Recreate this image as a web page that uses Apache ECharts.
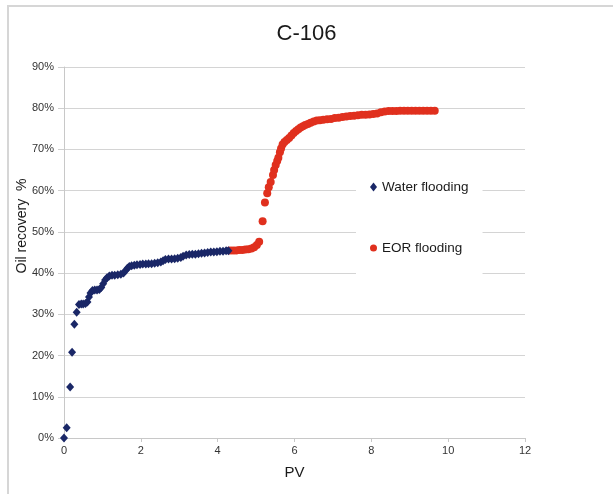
<!DOCTYPE html>
<html>
<head>
<meta charset="utf-8">
<script src="https://cdn.jsdelivr.net/npm/echarts@6/dist/echarts.min.js"></script>
<style>html,body{margin:0;padding:0;background:#fff}#c{width:613px;height:494px}</style>
</head>
<body>
<div id="c"></div>
<script>
var titleText = 'C-106';
var xTicks = [0, 2, 4, 6, 8, 10, 12];
var yTicks = [0, 10, 20, 30, 40, 50, 60, 70, 80, 90];
var waterFlooding = [
[0,0],[0.07,2.5],[0.16,12.4],[0.21,20.8],[0.27,27.6],[0.33,30.5],
[0.39,32.4],[0.45,32.5],[0.5,32.5],[0.56,32.6],[0.61,33.0],[0.65,34.2],[0.69,35.2],[0.74,35.8],[0.8,35.9],[0.86,35.9],[0.92,36.0],[0.97,36.5],[1.02,37.4],[1.07,38.3],[1.12,38.9],[1.18,39.3],[1.25,39.5],[1.32,39.5],[1.4,39.6],[1.48,39.7],[1.55,40.0],[1.6,40.6],[1.65,41.2],[1.7,41.6],[1.76,41.8],[1.83,41.9],[1.9,42.0],[1.98,42.1],[2.05,42.2],[2.13,42.2],[2.2,42.3],[2.28,42.3],[2.36,42.4],[2.44,42.5],[2.52,42.7],[2.58,43.0],[2.64,43.3],[2.72,43.4],[2.8,43.4],[2.88,43.5],[2.96,43.6],[3.04,43.8],[3.1,44.1],[3.18,44.4],[3.26,44.5],[3.34,44.6],[3.42,44.6],[3.5,44.7],[3.58,44.8],[3.66,44.9],[3.74,45.0],[3.82,45.1],[3.9,45.1],[3.98,45.2],[4.06,45.3],[4.14,45.3],[4.22,45.4],[4.28,45.4]
];
var eorFlooding = [
[4.32,45.5],[4.4,45.5],[4.48,45.5],[4.56,45.6],[4.64,45.6],[4.72,45.7],[4.8,45.8],[4.88,46.0],[4.95,46.3],[5.02,46.8],[5.08,47.6],[5.17,52.6],[5.23,57.1],[5.29,59.4],[5.33,60.8],[5.38,62.1],[5.44,63.8],[5.47,65.0],[5.51,66.2],[5.55,67.2],[5.58,68.0],[5.62,69.3],[5.65,70.2],[5.69,71.2],[5.74,71.8],[5.8,72.3],[5.86,72.8],[5.92,73.4],[5.98,74.0],[6.04,74.5],[6.1,74.9],[6.16,75.3],[6.22,75.6],[6.28,75.9],[6.35,76.2],[6.42,76.5],[6.5,76.8],[6.58,77.0],[6.66,77.1],[6.75,77.2],[6.85,77.3],[6.95,77.4],[7.05,77.6],[7.15,77.7],[7.25,77.9],[7.35,78.0],[7.45,78.1],[7.55,78.2],[7.65,78.3],[7.75,78.4],[7.85,78.4],[7.95,78.5],[8.05,78.6],[8.15,78.7],[8.25,79.0],[8.35,79.2],[8.45,79.3],[8.55,79.3],[8.65,79.3],[8.75,79.4],[8.85,79.4],[8.95,79.4],[9.05,79.4],[9.15,79.4],[9.25,79.4],[9.35,79.4],[9.45,79.4],[9.55,79.4],[9.65,79.4]
];
var seriesNames = ['Water flooding', 'EOR flooding'];
var xName = 'PV';
var yName = 'Oil recovery  %';

var chart = echarts.init(document.getElementById('c'), null, {renderer: 'canvas'});
var font = 'Liberation Sans, Arial, sans-serif';
var navy = '#1a2767';
var red = '#e0301e';
chart.setOption({
  animation: false,
  backgroundColor: '#fff',
  title: {
    text: titleText, left: 'center', top: 18,
    textStyle: {fontFamily: font, fontSize: 22, fontWeight: 'normal', color: '#1a1a1a'}
  },
  grid: {left: 64, top: 67, width: 461, height: 371, containLabel: false},
  legend: {
    orient: 'vertical', left: 356, top: 176,
    padding: [4, 14, 20, 14], itemGap: 47, itemWidth: 7, itemHeight: 9,
    backgroundColor: '#fff',
    textStyle: {fontFamily: font, fontSize: 13.5, color: '#1a1a1a'},
    data: [
      {name: seriesNames[0], icon: 'diamond', itemStyle: {color: navy}},
      {name: seriesNames[1], icon: 'circle', itemStyle: {color: red}}
    ]
  },
  xAxis: {
    type: 'value', min: xTicks[0], max: xTicks[xTicks.length - 1], interval: 2,
    name: xName, nameLocation: 'middle', nameGap: 27,
    nameTextStyle: {fontFamily: font, fontSize: 15, color: '#1a1a1a'},
    axisLine: {show: true, lineStyle: {color: '#c8c8c8', width: 1}},
    axisTick: {show: true, length: 4, lineStyle: {color: '#c8c8c8'}},
    axisLabel: {fontFamily: font, fontSize: 11, color: '#333', margin: 7},
    splitLine: {show: false}
  },
  yAxis: {
    type: 'value', min: yTicks[0], max: yTicks[yTicks.length - 1], interval: 10,
    axisLine: {show: true, lineStyle: {color: '#c8c8c8', width: 1}},
    axisTick: {show: true, length: 6, lineStyle: {color: '#cfcfcf'}},
    axisLabel: {fontFamily: font, fontSize: 11, color: '#333', margin: 10, formatter: '{value}%'},
    splitLine: {show: true, lineStyle: {color: '#d4d4d4', width: 1}}
  },
  graphic: [
    {type: 'polyline', z: -1, shape: {points: [[613, 6], [8, 6], [8, 494]]}, style: {stroke: '#d6d6d6', lineWidth: 2, fill: null}},
    {type: 'text', x: 22, y: 226, rotation: Math.PI / 2,
      style: {text: yName, fontFamily: font, fontSize: 14, fill: '#1a1a1a', align: 'center', verticalAlign: 'middle'}}
  ],
  series: [
    {name: seriesNames[0], type: 'scatter', symbol: 'diamond', symbolSize: [8, 9],
      itemStyle: {color: navy, opacity: 1}, data: waterFlooding, z: 3},
    {name: seriesNames[1], type: 'scatter', symbol: 'circle', symbolSize: 8,
      itemStyle: {color: red, opacity: 1}, data: eorFlooding, z: 2}
  ]
});
</script>
</body>
</html>
